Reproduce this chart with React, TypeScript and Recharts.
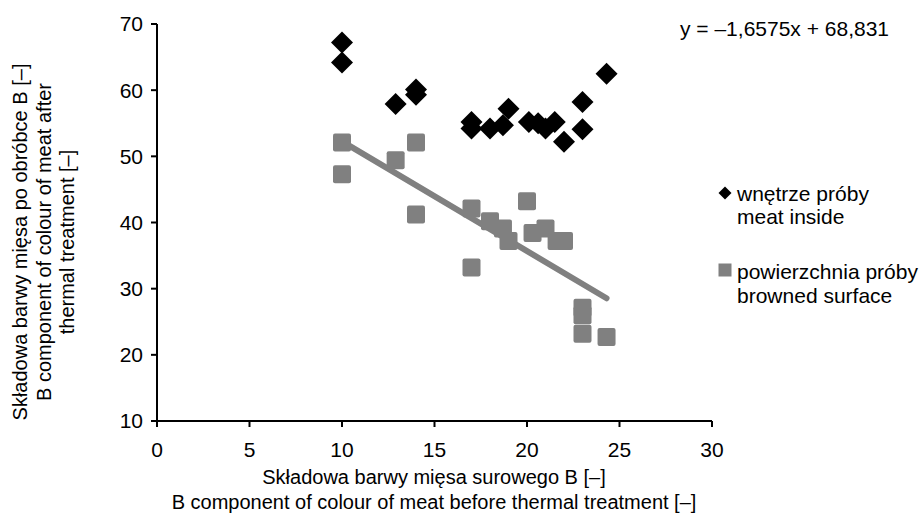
import React from 'react';
import { ScatterChart, Scatter, XAxis, YAxis } from 'recharts';

// values
const insideX = [10, 10, 12.9, 14, 14, 17, 17, 18, 18.7, 19, 20.1, 20.6, 21, 21.5, 22, 23, 23, 24.3];
const insideY = [67.2, 64.2, 57.9, 60.1, 59.3, 55.2, 54.2, 54.2, 54.7, 57.2, 55.2, 55, 54.2, 55.2, 52.2, 58.2, 54.1, 62.5];
const surfaceX = [10, 10, 12.9, 14, 14, 17, 17, 18, 18.7, 19, 20, 20.3, 21, 21.6, 22, 23, 23, 23, 24.3];
const surfaceY = [52.1, 47.3, 49.4, 52.1, 41.2, 42.1, 33.2, 40.2, 39.1, 37.2, 43.2, 38.4, 39.1, 37.2, 37.2, 27.1, 26, 23.2, 22.7];

// trend line of the browned surface, as printed on the chart
const trendSlope = -1.6575;
const trendIntercept = 68.831;
const trendRange = [10, 24.3];

const xTicks = [0, 5, 10, 15, 20, 25, 30];
const yTicks = [10, 20, 30, 40, 50, 60, 70];

const seriesNames = [
    ['wnętrze próby', 'meat inside'],
    ['powierzchnia próby', 'browned surface'],
];
const equationText = 'y = –1,6575x + 68,831';
const xTitle = ['Składowa barwy mięsa surowego B [–]', 'B component of colour of meat before thermal treatment [–]'];
const yTitle = ['Składowa barwy mięsa po obróbce B [–]', 'B component of colour of meat after', 'thermal treatment [–]'];

const FONT = '"Liberation Sans", Arial, sans-serif';
const GREY = '#808080';

const insideData = insideX.map((x, i) => ({ x, y: insideY[i] }));
const surfaceData = surfaceX.map((x, i) => ({ x, y: surfaceY[i] }));
const trendData = trendRange.map(x => ({ x, y: trendSlope * x + trendIntercept }));

//MARKER SHAPES
const Diamond = ({ cx, cy }: any) => {
    const r = 11;
    return <polygon points={`${cx},${cy - r} ${cx + r},${cy} ${cx},${cy + r} ${cx - r},${cy}`} fill="#000" />;
};
const Square = ({ cx, cy }: any) => {
    const s = 18;
    return <rect x={cx - s / 2} y={cy - s / 2} width={s} height={s} rx={2} fill={GREY} />;
};
const NoDot = () => <g />;

export default function App() {
    return (
        <div style={{ position: 'absolute', left: 0, top: 0, width: 923, height: 522, background: '#fff' }}>
            <ScatterChart width={923} height={522} margin={{ top: 24, right: 211, bottom: 0, left: 0 }}>
                <XAxis
                    type="number"
                    dataKey="x"
                    domain={[0, 30]}
                    ticks={xTicks}
                    height={101}
                    axisLine={{ stroke: '#000', strokeWidth: 2 }}
                    tickLine={{ stroke: '#000', strokeWidth: 2 }}
                    tickSize={6}
                    tickMargin={15}
                    tick={{ fill: '#000', fontSize: 21, fontFamily: FONT }}
                />
                <YAxis
                    type="number"
                    dataKey="y"
                    domain={[10, 70]}
                    ticks={yTicks}
                    width={157}
                    axisLine={{ stroke: '#000', strokeWidth: 2 }}
                    tickLine={{ stroke: '#000', strokeWidth: 2 }}
                    tickSize={6}
                    tickMargin={8}
                    tick={{ fill: '#000', fontSize: 21, fontFamily: FONT }}
                />
                <Scatter data={insideData} shape={Diamond} isAnimationActive={false} />
                <Scatter data={surfaceData} shape={Square} isAnimationActive={false} />
                <Scatter
                    data={trendData}
                    shape={NoDot}
                    line={{ stroke: GREY, strokeWidth: 6, strokeLinecap: 'round' }}
                    lineType="joint"
                    isAnimationActive={false}
                />
            </ScatterChart>

            {/* titles, equation and legend */}
            <svg width={923} height={522} style={{ position: 'absolute', left: 0, top: 0, pointerEvents: 'none' }}
                fontFamily={FONT} fontSize={20} fill="#000">
                <text x={680} y={28} fontSize={21} dominantBaseline="central">{equationText}</text>

                {xTitle.map((t, i) => (
                    <text key={t} x={434} y={477 + i * 25} textAnchor="middle" dominantBaseline="central">{t}</text>
                ))}
                {yTitle.map((t, i) => (
                    <g key={t} transform={`translate(${20 + i * 23.5}, 242) rotate(-90)`}>
                        <text x={0} y={0} textAnchor="middle" dominantBaseline="central">{t}</text>
                    </g>
                ))}

                <g fontSize={21}>
                    <polygon points="725,186.5 731.5,193 725,199.5 718.5,193" fill="#000" />
                    <text x={737} y={193} dominantBaseline="central">{seriesNames[0][0]}</text>
                    <text x={737} y={216.5} dominantBaseline="central">{seriesNames[0][1]}</text>

                    <rect x={718.5} y={263.5} width={13} height={13} fill={GREY} />
                    <text x={737} y={271.5} dominantBaseline="central">{seriesNames[1][0]}</text>
                    <text x={737} y={295.5} dominantBaseline="central">{seriesNames[1][1]}</text>
                </g>
            </svg>
        </div>
    );
}
